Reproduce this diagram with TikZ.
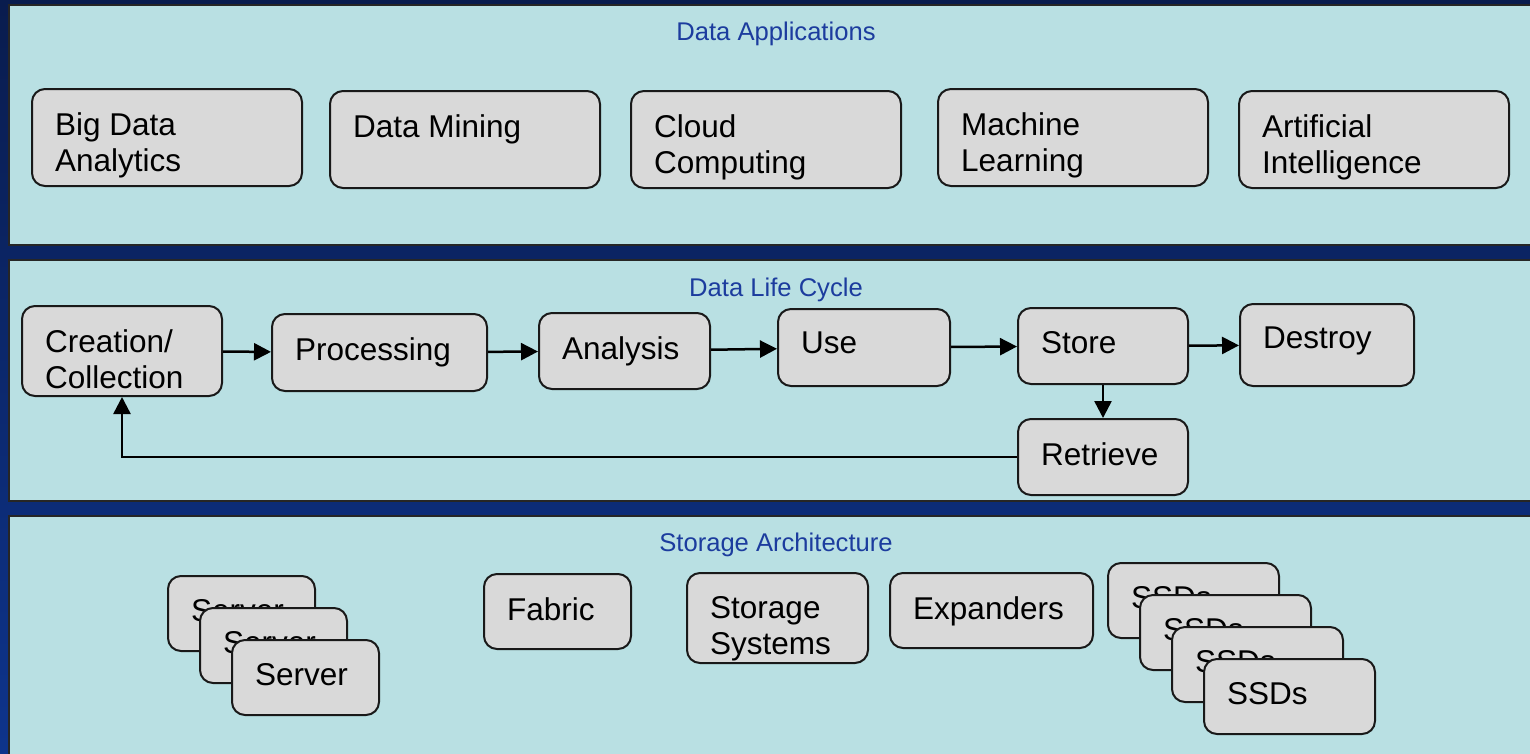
\documentclass[tikz,border=0pt]{standalone}
\usepackage{fontspec}
\setmainfont{Liberation Sans}
\usetikzlibrary{arrows.meta}
\definecolor{bgtop}{RGB}{9,28,78}
\definecolor{bgbot}{RGB}{14,52,140}
\definecolor{panelfill}{RGB}{185,224,227}
\definecolor{boxfill}{RGB}{217,217,217}
\definecolor{titleblue}{RGB}{28,60,158}
\tikzset{
  panel/.style={fill=panelfill, draw=black!85, line width=1.5pt},
  blk/.style={draw=black!90, fill=boxfill, line width=2pt, rounded corners=13pt, inner sep=0pt},
  lbl/.style={anchor=north west, align=left, inner sep=0pt, font=\fontsize{31.5}{36}\selectfont},
  ttl/.style={anchor=base, text=titleblue, inner sep=0pt, font=\fontsize{25.6}{30}\selectfont},
  arr/.style={-{Triangle[length=17pt,width=17pt]}, line width=2.5pt},
}
% name, left, top, width, height, text
\newcommand\mkbox[6]{%
  \node[blk, minimum width=#4, minimum height=#5, anchor=north west] (#1) at (#2,#3) {};
  \node[lbl] (#1t) at ([xshift=24pt,yshift=-24pt]#1.north west) {#6};
}
\begin{document}
\begin{tikzpicture}[x=1pt,y=-1pt]
\useasboundingbox (0,0) rectangle (1530,753);
\shade[top color=bgtop, bottom color=bgbot] (0,0) rectangle (1530,753);
%panels
\draw[panel] (9,5) rectangle (1535,245);
\draw[panel] (9,260) rectangle (1535,501);
\draw[panel] (9,516) rectangle (1535,760);
\node[ttl] (appt) at (776,40) {Data Applications};
\node[ttl] (lct) at (776,296) {Data Life Cycle};
\node[ttl] (sat) at (776,551) {Storage Architecture};
%applications
\foreach \n/\x/\y/\t in {bda/31/88/{Big Data\\Analytics}, dm/329/90/{Data Mining}, cld/630/90/{Cloud\\Computing}, ml/937/88/{Machine\\Learning}, ai/1238/90/{Artificial\\Intelligence}} {
  \mkbox{\n}{\x}{\y}{270}{97}{\t}
}
%life cycle
\mkbox{cc}{21}{305}{200}{90}{Creation/\\Collection}
\mkbox{proc}{271}{313}{215}{77}{Processing}
\mkbox{ana}{538}{312}{171}{76}{Analysis}
\mkbox{use}{777}{308}{172}{77}{Use}
\mkbox{sto}{1017}{307}{170}{76}{Store}
\mkbox{des}{1239}{303}{174}{82}{Destroy}
\mkbox{ret}{1017}{418}{170}{76}{Retrieve}
\draw[arr] (cc) -- (proc);
\draw[arr] (proc) -- (ana);
\draw[arr] (ana) -- (use);
\draw[arr] (use) -- (sto);
\draw[arr] (sto) -- (des);
\draw[arr] (sto) -- (ret);
\draw[arr] (ret.west) -| (cc.south);
%storage
\foreach \i in {0,1,2} {
  \mkbox{srv\i}{167+32*\i}{575+32*\i}{147}{75}{Server}
}
\mkbox{fab}{483}{573}{147}{75}{Fabric}
\mkbox{ss}{686}{572}{181}{90}{Storage\\Systems}
\mkbox{exp}{889}{572}{203}{75}{Expanders}
\foreach \i in {0,1,2,3} {
  \mkbox{ssd\i}{1107+32*\i}{562+32*\i}{171}{75}{SSDs}
}
\end{tikzpicture}
\end{document}
